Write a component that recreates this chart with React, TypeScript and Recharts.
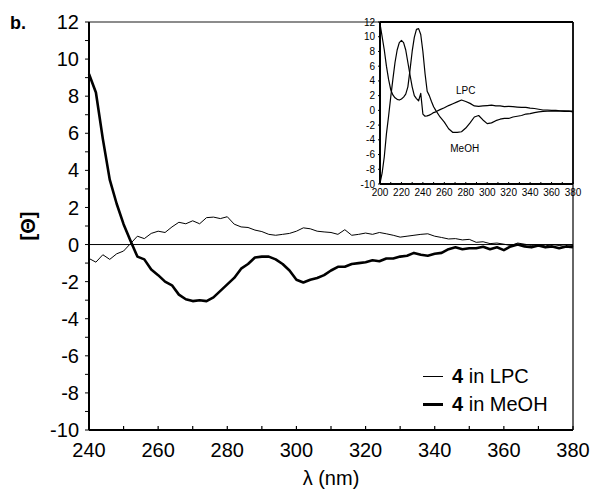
import React from 'react';
import { LineChart, Line, XAxis, YAxis, ReferenceLine, ReferenceDot } from 'recharts';

const FONT = '"Liberation Sans", Arial, Helvetica, sans-serif';

// main panel: 240-380 nm
const mainLambda = [
  240, 242, 244, 246, 248, 250, 252, 254, 256, 258,
  260, 262, 264, 266, 268, 270, 272, 274, 276, 278,
  280, 282, 284, 286, 288, 290, 292, 294, 296, 298,
  300, 302, 304, 306, 308, 310, 312, 314, 316, 318,
  320, 322, 324, 326, 328, 330, 332, 334, 336, 338,
  340, 342, 344, 346, 348, 350, 352, 354, 356, 358,
  360, 362, 364, 366, 368, 370, 372, 374, 376, 378, 380,
];
const mainLPC = [
  -0.75, -0.95, -0.55, -0.8, -0.5, -0.35, 0.05, 0.45, 0.32, 0.6,
  0.72, 0.65, 0.95, 1.2, 1.12, 1.28, 1.12, 1.45, 1.48, 1.4,
  1.5, 1.1, 0.95, 0.92, 0.78, 0.7, 0.55, 0.5, 0.55, 0.6,
  0.72, 0.9, 0.85, 0.72, 0.68, 0.65, 0.55, 0.8, 0.5, 0.55,
  0.62, 0.55, 0.65, 0.58, 0.5, 0.4, 0.45, 0.5, 0.55, 0.58,
  0.45, 0.38, 0.3, 0.32, 0.25, 0.28, 0.12, 0.15, 0.05, 0.08,
  0.02, -0.05, 0.08, 0.02, -0.05, 0.0, -0.08, 0.0, -0.05, -0.1, -0.05,
];
const mainMeOH = [
  9.2, 8.2, 5.7, 3.5, 2.2, 1.1, 0.2, -0.65, -0.8, -1.35,
  -1.65, -2.0, -2.2, -2.7, -2.95, -3.05, -3.0, -3.05, -2.85, -2.5,
  -2.15, -1.8, -1.3, -1.05, -0.7, -0.65, -0.65, -0.8, -1.05, -1.4,
  -1.9, -2.05, -1.9, -1.8, -1.65, -1.4, -1.2, -1.2, -1.05, -1.0,
  -0.95, -0.85, -0.9, -0.75, -0.75, -0.65, -0.6, -0.45, -0.55, -0.6,
  -0.5, -0.45, -0.25, -0.15, -0.25, -0.2, -0.2, -0.12, -0.25, -0.15,
  -0.3, -0.1, 0.0, -0.1, -0.15, -0.05, -0.15, -0.1, -0.2, -0.1, -0.15,
];

// inset: full 200-380 nm scan
const insetLambda = [
  200, 202, 204, 206, 208, 210, 212, 214, 216, 218,
  220, 222, 224, 226, 228, 230, 232, 234, 236, 238,
  240, 242, 244, 246, 248, 250, 252,
  256, 260, 264, 268, 272, 276, 280, 284, 288, 292,
  296, 300, 304, 308, 312, 316, 320, 324, 328, 332,
  336, 340, 344, 348, 352, 356, 360, 364, 368, 372, 376, 380,
];
const insetLPC = [
  -9.9, -8.5, -6.3, -3.2, -0.8, 1.8, 4.2, 6.5, 8.2, 9.2,
  9.5, 9.2, 8.2, 6.5, 4.8, 3.2, 2.0, 1.6, 1.3, 2.3,
  -0.5, -0.8, -0.75, -0.65, -0.5, -0.3, -0.2,
  0.1, 0.35, 0.65, 0.9, 1.15, 1.4, 1.2, 0.95, 0.6, 0.55,
  0.6, 0.65, 0.7, 0.6, 0.6, 0.5, 0.55, 0.5, 0.45, 0.4,
  0.4, 0.3, 0.25, 0.15, 0.05, 0.05, 0.0, 0.0, -0.05, -0.05, -0.1, -0.1,
];
const insetMeOH = [
  11.8, 10.0, 8.2, 6.0, 4.2, 2.8, 2.1, 1.7, 1.5, 1.4,
  1.55, 1.8, 2.2, 3.2, 5.5, 8.0, 9.9, 11.0, 11.1, 10.3,
  8.0, 5.0, 2.6, 2.0, 1.2, 0.5, 0.0,
  -0.9, -1.6, -2.5, -3.0, -3.0, -2.9, -2.4, -1.7, -0.9, -0.7,
  -1.3, -1.8, -1.7, -1.4, -1.2, -1.1, -1.1, -0.9, -0.8, -0.7,
  -0.5, -0.45, -0.3, -0.2, -0.15, -0.1, -0.1, -0.1, -0.1, -0.15, -0.1, -0.2,
];

const mainXTicks = [240, 250, 260, 270, 280, 290, 300, 310, 320, 330, 340, 350, 360, 370, 380];
const mainYTicks = [-10, -9, -8, -7, -6, -5, -4, -3, -2, -1, 0, 1, 2, 3, 4, 5, 6, 7, 8, 9, 10, 11, 12];
const insetXTicks = [200, 210, 220, 230, 240, 250, 260, 270, 280, 290, 300, 310, 320, 330, 340, 350, 360, 370, 380];
const insetYTicks = [-10, -8, -6, -4, -2, 0, 2, 4, 6, 8, 10, 12];

const mainData = mainLambda.map((l, i) => ({ l, lpc: mainLPC[i], meoh: mainMeOH[i] }));
const insetData = insetLambda.map((l, i) => ({ l, lpc: insetLPC[i], meoh: insetMeOH[i] }));

const MainXTick = ({ x, y, payload }: any) => (
  <g>
    <line x1={x} x2={x} y1={y} y2={y - 4} stroke="#000" strokeWidth={1.2} />
    {payload.value % 20 === 0 && (
      <text x={x} y={y + 27} textAnchor="middle" fontSize={20} fill="#000" fontFamily={FONT}>
        {payload.value}
      </text>
    )}
  </g>
);

const InsetXTick = ({ x, y, payload }: any) => (
  <g>
    <line x1={x} x2={x} y1={y} y2={y - 2} stroke="#000" strokeWidth={1} />
    {payload.value % 20 === 0 && (
      <text x={x} y={y + 12} textAnchor="middle" fontSize={10} fill="#000" fontFamily={FONT}>
        {payload.value}
      </text>
    )}
  </g>
);

function Inset() {
  return (
    <div style={{ position: 'absolute', left: 350, top: 12 }}>
      <LineChart width={242} height={188} data={insetData} margin={{ top: 10, right: 19, left: 0, bottom: 0 }}>
        <XAxis
          dataKey="l"
          type="number"
          domain={[200, 380]}
          ticks={insetXTicks}
          interval={0}
          height={16}
          tickSize={0}
          tickMargin={0}
          tickLine={false}
          tick={<InsetXTick />}
          axisLine={{ stroke: '#000', strokeWidth: 2 }}
        />
        <YAxis
          type="number"
          domain={[-10, 12]}
          ticks={insetYTicks}
          interval={0}
          width={30}
          tickSize={2}
          tickMargin={3}
          tick={{ fontSize: 10, fill: '#000', fontFamily: FONT }}
          tickLine={{ stroke: '#000' }}
          axisLine={{ stroke: '#000', strokeWidth: 2 }}
        />
        <ReferenceLine y={12} stroke="#000" strokeWidth={2} />
        <ReferenceLine x={380} stroke="#000" strokeWidth={1.5} />
        <Line type="linear" dataKey="lpc" stroke="#000" strokeWidth={1.2} dot={false} isAnimationActive={false} strokeLinejoin="round" />
        <Line type="linear" dataKey="meoh" stroke="#000" strokeWidth={1.2} dot={false} isAnimationActive={false} strokeLinejoin="round" />
        <ReferenceDot x={280} y={2.7} r={1} fill="none" stroke="none" label={{ value: 'LPC', position: 'center', fontSize: 10, fill: '#000', fontFamily: FONT }} />
        <ReferenceDot x={279} y={-5.2} r={1} fill="none" stroke="none" label={{ value: 'MeOH', position: 'center', fontSize: 10, fill: '#000', fontFamily: FONT }} />
      </LineChart>
    </div>
  );
}

export default function App() {
  return (
    <div style={{ position: 'absolute', left: 0, top: 0, width: 592, height: 490, background: '#fff', fontFamily: FONT }}>
      <LineChart width={592} height={490} data={mainData} margin={{ top: 22, right: 19, left: 0, bottom: 0 }}>
        <XAxis
          dataKey="l"
          type="number"
          domain={[240, 380]}
          ticks={mainXTicks}
          interval={0}
          height={60}
          tickSize={0}
          tickMargin={0}
          tickLine={false}
          tick={<MainXTick />}
          axisLine={{ stroke: '#000', strokeWidth: 2 }}
          label={{ value: 'λ (nm)', position: 'insideBottom', offset: 5, fontSize: 20, fill: '#000', fontFamily: FONT }}
        />
        <YAxis
          type="number"
          domain={[-10, 12]}
          ticks={mainYTicks}
          interval={0}
          width={89}
          tickSize={4}
          tickMargin={6}
          tickFormatter={(v) => (v % 2 === 0 ? String(v) : '')}
          tick={{ fontSize: 20, fill: '#000', fontFamily: FONT }}
          tickLine={{ stroke: '#000' }}
          axisLine={{ stroke: '#000', strokeWidth: 2 }}
        />
        <ReferenceLine y={12} stroke="#666" strokeWidth={1.5} />
        <ReferenceLine x={380} stroke="#333" strokeWidth={1.5} />
        <ReferenceLine y={0} stroke="#000" strokeWidth={1} />
        <Line type="linear" dataKey="lpc" stroke="#000" strokeWidth={1} dot={false} isAnimationActive={false} strokeLinejoin="round" />
        <Line type="linear" dataKey="meoh" stroke="#000" strokeWidth={2.6} dot={false} isAnimationActive={false} strokeLinejoin="round" />
      </LineChart>

      <Inset />

      <div style={{ position: 'absolute', left: 10, top: 13, fontSize: 18, fontWeight: 'bold' }}>b.</div>
      <div
        style={{
          position: 'absolute',
          left: 28,
          top: 226,
          transform: 'translate(-50%, -50%) rotate(-90deg)',
          fontSize: 20,
          fontWeight: 'bold',
          whiteSpace: 'nowrap',
        }}
      >
        [Θ]
      </div>

      {/* legend */}
      <div style={{ position: 'absolute', left: 423, top: 376, width: 20, height: 0, borderTop: '1px solid #000' }} />
      <div style={{ position: 'absolute', left: 452, top: 365, fontSize: 20, whiteSpace: 'nowrap' }}>
        <b>4</b> in LPC
      </div>
      <div style={{ position: 'absolute', left: 423, top: 403, width: 20, height: 0, borderTop: '3px solid #000' }} />
      <div style={{ position: 'absolute', left: 452, top: 393, fontSize: 20, whiteSpace: 'nowrap' }}>
        <b>4</b> in MeOH
      </div>
    </div>
  );
}
